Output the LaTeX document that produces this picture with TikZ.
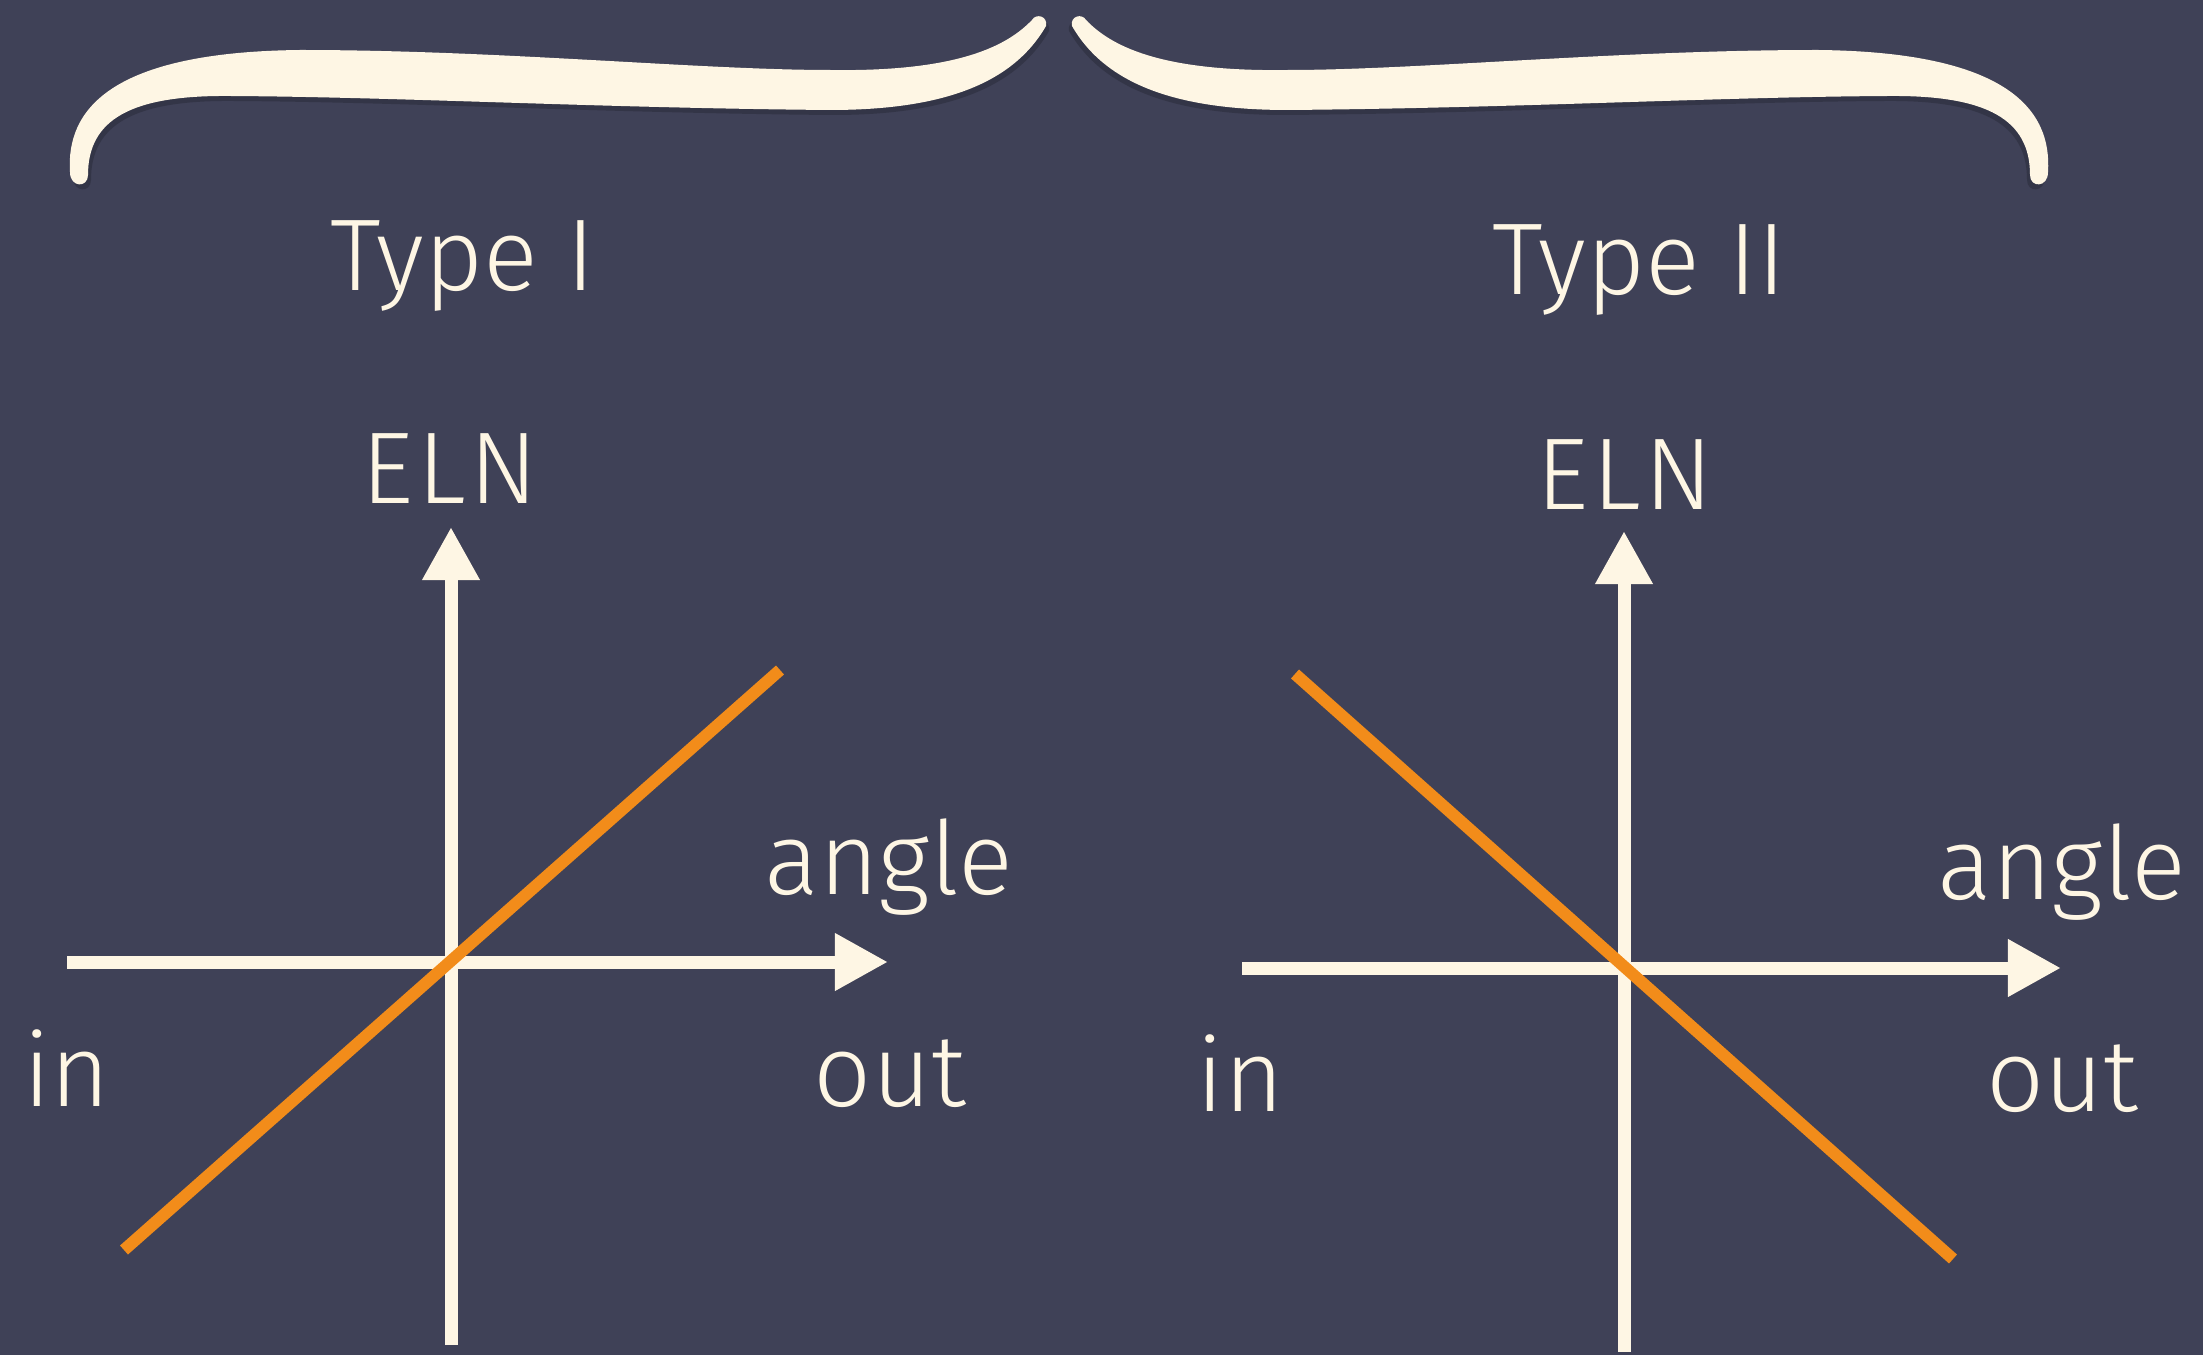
\documentclass[tikz,border=0pt]{standalone}
\usepackage{fontspec}
\setmainfont{Fira Sans Light}
\usepackage{tikz, xcolor}
\usetikzlibrary{arrows.meta}

\definecolor{slate}{RGB}{63,65,87}
\definecolor{cream}{RGB}{254,246,228}
\definecolor{tangerine}{RGB}{242,140,26}

\tikzset{
    axis/.style={cream, line width=0.13cm, -{Triangle[length=0.53cm, width=0.54cm]}},
    trend/.style={tangerine, line width=0.12cm},
    lbl/.style={cream, anchor=base, font=\fontsize{29}{34}\selectfont},
    halfbrace/.pic={
        \fill [black, opacity=0.18, shift={(3,5)}] (70,172) .. controls (66,110) and (110,52) .. (300,50)
            .. controls (500,50) and (700,70) .. (830,70)
            .. controls (960,72) and (1008,45) .. (1032,20)
            .. controls (1036,13) and (1048,16) .. (1046,26)
            .. controls (1012,85) and (940,110) .. (830,110)
            .. controls (600,108) and (400,97) .. (230,96)
            .. controls (130,95) and (88,120) .. (88,175)
            .. controls (88,188) and (70,188) .. (70,172) -- cycle;
        \fill [cream] (70,172) .. controls (66,110) and (110,52) .. (300,50)
            .. controls (500,50) and (700,70) .. (830,70)
            .. controls (960,72) and (1008,45) .. (1032,20)
            .. controls (1036,13) and (1048,16) .. (1046,26)
            .. controls (1012,85) and (940,110) .. (830,110)
            .. controls (600,108) and (400,97) .. (230,96)
            .. controls (130,95) and (88,120) .. (88,175)
            .. controls (88,188) and (70,188) .. (70,172) -- cycle;
    }
}

\begin{document}
\begin{tikzpicture}[x=0.01cm, y=-0.01cm]
    \fill [slate] (0,0) rectangle (2203,1355);
    \useasboundingbox (0,0) rectangle (2203,1355);

    % braces
    \pic at (0,0) {halfbrace};
    \pic [xscale=-1] at (2118,0) {halfbrace};

    % type I
    \node [lbl] (typeA) at (463,291) {Type I};
    \node [lbl] (elnA) at (450,503) {E\kern1pt L\kern1pt N};
    \node [lbl] (angleA) at (889,894) {angle};
    \node [lbl] (inA) at (67,1106) {in};
    \node [lbl] (outA) at (890,1106) {out};
    \coordinate (xlA) at (67,962);
    \coordinate (xrA) at (888,962);
    \coordinate (ybA) at (451,1345);
    \coordinate (ytA) at (451,527);
    \coordinate (lowA) at (124,1250);
    \coordinate (highA) at (780,670);
    \draw [axis] (xlA) -- (xrA);
    \draw [axis] (ybA) -- (ytA);
    \draw [trend] (lowA) -- (highA);

    % type II
    \node [lbl] (typeB) at (1639,295) {Type II};
    \node [lbl] (elnB) at (1625,509) {E\kern1pt L\kern1pt N};
    \node [lbl] (angleB) at (2062,899) {angle};
    \node [lbl] (inB) at (1240,1111) {in};
    \node [lbl] (outB) at (2062,1111) {out};
    \coordinate (xlB) at (1242,968);
    \coordinate (xrB) at (2061,968);
    \coordinate (ybB) at (1624,1352);
    \coordinate (ytB) at (1624,531);
    \coordinate (highB) at (1295,674);
    \coordinate (lowB) at (1953,1259);
    \draw [axis] (xlB) -- (xrB);
    \draw [axis] (ybB) -- (ytB);
    \draw [trend] (highB) -- (lowB);
\end{tikzpicture}
\end{document}
